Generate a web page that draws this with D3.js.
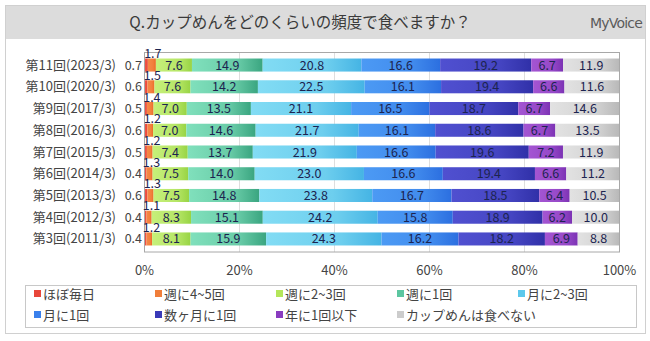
<!DOCTYPE html>
<html><head><meta charset="utf-8">
<script src="https://cdn.jsdelivr.net/npm/d3@7"></script>
<style>
html,body{margin:0;padding:0;background:#fff;}
svg{display:block;font-family:"Noto Sans CJK JP","Noto Sans",sans-serif;}
</style></head>
<body><svg id="c" width="650" height="341"></svg>
<script>
const rows = ["第11回(2023/3)","第10回(2020/3)","第9回(2017/3)","第8回(2016/3)","第7回(2015/3)","第6回(2014/3)","第5回(2013/3)","第4回(2012/3)","第3回(2011/3)"];
const seriesNames = ["ほぼ毎日","週に4~5回","週に2~3回","週に1回","月に2~3回","月に1回","数ヶ月に1回","年に1回以下","カップめんは食べない"];
const almostDaily = [0.7,0.6,0.5,0.6,0.5,0.4,0.6,0.4,0.4];
const week45 = [1.7,1.5,1.4,1.2,1.2,1.3,1.3,1.1,1.2];
const week23 = [7.6,7.6,7.0,7.0,7.4,7.5,7.5,8.3,8.1];
const week1 = [14.9,14.2,13.5,14.6,13.7,14.0,14.8,15.1,15.9];
const month23 = [20.8,22.5,21.1,21.7,21.9,23.0,23.8,24.2,24.3];
const month1 = [16.6,16.1,16.5,16.1,16.6,16.6,16.7,15.8,16.2];
const fewMonths = [19.2,19.4,18.7,18.6,19.6,19.4,18.5,18.9,18.2];
const yearOrLess = [6.7,6.6,6.7,6.7,7.2,6.6,6.4,6.2,6.9];
const never = [11.9,11.6,14.6,13.5,11.9,11.2,10.5,10.0,8.8];
const tickValues = [0,20,40,60,80,100];
const title = "Q.カップめんをどのくらいの頻度で食べますか？";

const seriesValues = [almostDaily,week45,week23,week1,month23,month1,fewMonths,yearOrLess,never];
const colors = [
  ["#f0574a","#e23d30"],["#f58a48","#ec6a28"],["#c6f07a","#98d444"],["#80e0bc","#3aa580"],
  ["#82dcf4","#45b4e4"],["#4c9af4","#2c6fe0"],["#5050d0","#3030a8"],["#a455d2","#7c32b4"],["#e2e2e2","#b8b8b8"]
];
const legendColors = ["#e8463a","#f07e3a","#b4e65a","#5cc6a0","#5cc8ec","#3a80ec","#3a3ab8","#8a3cc0","#cccccc"];

const svg = d3.select("#c");
const defs = svg.append("defs");
colors.forEach((c,i)=>{
  const g = defs.append("linearGradient").attr("id","g"+i).attr("x1","0").attr("x2","1").attr("y1","0").attr("y2","0");
  g.append("stop").attr("offset","0%").attr("stop-color",c[0]);
  g.append("stop").attr("offset","65%").attr("stop-color",d3.interpolateRgb(c[0],c[1])(0.35));
  g.append("stop").attr("offset","100%").attr("stop-color",c[1]);
});

// panel
svg.append("rect").attr("x",5.5).attr("y",5.5).attr("width",640).attr("height",328).attr("fill","#fff").attr("stroke","#d0d0d0");
svg.append("rect").attr("x",6).attr("y",6).attr("width",639).attr("height",33).attr("fill","#dcdcdc");
svg.append("text").attr("x",300).attr("y",28).attr("text-anchor","middle").attr("font-size",15.5).attr("fill","#3a3a3a").text(title);
svg.append("text").attr("x",642).attr("y",28).attr("text-anchor","end").attr("font-size",14).attr("fill","#5a5a5a").attr("font-family","'DejaVu Sans',sans-serif").attr("letter-spacing","-0.8").text("MyVoice");

const x = d3.scaleLinear().domain([0,100]).range([144.5,619.5]);
const y = d3.scaleBand().domain(rows).range([52,252]).paddingInner(0.4).paddingOuter(0.3);

// gridlines
svg.append("g").selectAll("line").data(tickValues.slice(1,-1)).join("line")
  .attr("x1",d=>x(d)).attr("x2",d=>x(d)).attr("y1",52).attr("y2",252).attr("stroke","#dedede");

// stacked data (normalised to 100%)
const table = rows.map((r,i)=>{
  const o = {row:r};
  seriesNames.forEach((s,j)=>o[s]=seriesValues[j][i]);
  return o;
});
const stack = d3.stack().keys(seriesNames).offset(d3.stackOffsetExpand);
const layers = stack(table);

const gBars = svg.append("g");
layers.forEach((layer,j)=>{
  gBars.append("g").selectAll("rect").data(layer).join("rect")
    .attr("x",d=>x(d[0]*100)).attr("width",d=>x(d[1]*100)-x(d[0]*100))
    .attr("y",d=>y(d.data.row)).attr("height",y.bandwidth())
    .attr("fill",`url(#g${j})`);
});

// plot border
svg.append("rect").attr("x",144.5).attr("y",52.5).attr("width",475).attr("height",199.5).attr("fill","none").attr("stroke","#a8a8a8");

// labels
const gL = svg.append("g").attr("font-size",12.5);
layers.forEach((layer,j)=>{
  gL.append("g").selectAll("text").data(layer).join("text")
    .attr("x",d=>{
      if(j===0) return 142;
      if(j===1) return x(d[0]*100)+5;
      return (x(d[0]*100)+x(d[1]*100))/2;
    })
    .attr("y",d=>{
      const yc = y(d.data.row)+y.bandwidth()/2;
      if(j===1) return y(d.data.row)-0.5;
      return yc+4.5;
    })
    .attr("text-anchor",j===0?"end":"middle")
    .attr("fill",j===0?"#444":"#1c2450")
    .text(d=>seriesValues[j][rows.indexOf(d.data.row)].toFixed(1));
});

// row labels
svg.append("g").selectAll("text").data(rows).join("text")
  .attr("x",116).attr("y",d=>y(d)+y.bandwidth()/2+4.5).attr("text-anchor","end")
  .attr("font-size",13).attr("fill","#444").text(d=>d);

// x axis labels
svg.append("g").selectAll("text").data(tickValues).join("text")
  .attr("x",d=>x(d)).attr("y",275).attr("text-anchor","middle").attr("font-size",13).attr("fill","#444")
  .text(d=>d+"%");

// legend
svg.append("rect").attr("x",25.5).attr("y",285.5).attr("width",611).attr("height",42).attr("fill","#fff").attr("stroke","#c8c8c8");
const lg = svg.append("g").selectAll("g").data(seriesNames).join("g")
  .attr("transform",(d,i)=>`translate(${34+(i%5)*121},${i<5?294:315})`);
lg.append("rect").attr("x",0).attr("y",-4).attr("width",7).attr("height",7).attr("fill",(d,i)=>legendColors[i]);
lg.append("text").attr("x",9).attr("y",4.5).attr("font-size",13).attr("fill","#444").text(d=>d);
</script></body></html>
